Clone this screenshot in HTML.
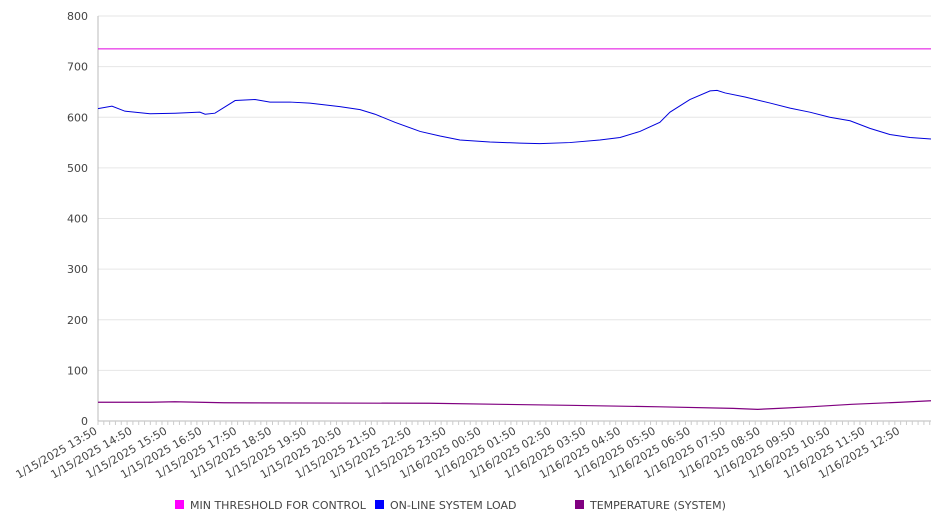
<!DOCTYPE html>
<html><head><meta charset="utf-8"><style>
body{margin:0;background:#fff;font-family:"DejaVu Sans","Liberation Sans",sans-serif;}
svg text{font-family:"DejaVu Sans","Liberation Sans",sans-serif;font-size:11px;fill:#444;}
</style></head><body>
<svg id="chart" width="946" height="526" xmlns="http://www.w3.org/2000/svg"></svg>
<script>
const yTicks=[0,100,200,300,400,500,600,700,800];
const xTickLabels=["1/15/2025 13:50","1/15/2025 14:50","1/15/2025 15:50","1/15/2025 16:50","1/15/2025 17:50","1/15/2025 18:50","1/15/2025 19:50","1/15/2025 20:50","1/15/2025 21:50","1/15/2025 22:50","1/15/2025 23:50","1/16/2025 00:50","1/16/2025 01:50","1/16/2025 02:50","1/16/2025 03:50","1/16/2025 04:50","1/16/2025 05:50","1/16/2025 06:50","1/16/2025 07:50","1/16/2025 08:50","1/16/2025 09:50","1/16/2025 10:50","1/16/2025 11:50","1/16/2025 12:50"];
const loadHours=[0,0.4,0.77,1.49,2.21,2.92,3.07,3.35,3.93,4.5,4.93,5.5,6.07,6.93,7.51,7.94,8.51,9.23,9.8,10.37,11.23,12.09,12.66,13.52,14.38,14.96,15.53,16.1,16.39,16.96,17.54,17.74,17.97,18.54,19.26,19.83,20.4,20.97,21.55,22.12,22.69,23.27,23.87];
const loadValues=[617,622,612,607,608,610,606,608,633,635,630,630,628,621,615,606,590,572,563,555,551,549,548,550,555,560,572,590,610,635,652,653,648,640,628,618,610,600,593,578,566,560,557];
const tempHours=[0,1.5,2.2,3.6,9.5,11.5,13.5,16.1,18.2,18.9,19.5,20.4,21.6,23.0,23.87];
const tempValues=[37,37,38,36,35,33,31,28,25,23,25,28,33,37,40];
const thresholdValue=735;
const spanHours=23.87;
const L=98,R=931,T=16,B=421;
const xs=h=>L+h*(R-L)/spanHours;
const ys=v=>B-v*(B-T)/800;
const svg=document.getElementById('chart');
const NS='http://www.w3.org/2000/svg';
function mk(tag,attrs){const e=document.createElementNS(NS,tag);for(const k in attrs)e.setAttribute(k,attrs[k]);svg.appendChild(e);return e;}
yTicks.forEach(v=>{
  const g=mk('line',{x1:L,x2:R,y1:ys(v),y2:ys(v),stroke:v===0?'#bbb':'#e6e6e6','stroke-width':1});
  
  
  const t=mk('text',{x:88,y:ys(v)+4,'text-anchor':'end'});t.textContent=v;
  
  
});
const ax=mk('line',{x1:L,x2:L,y1:T,y2:B,stroke:'#bbb'});


for(let m=0;m<=spanHours*60;m+=10){
  const tk=mk('line',{x1:xs(m/60),x2:xs(m/60),y1:B,y2:B+4,stroke:'#ccc'});
  
  
}
xTickLabels.forEach((s,i)=>{
  const x=xs(i);
  const t=mk('text',{x:x,y:B+12,'text-anchor':'end',transform:`rotate(-30 ${x} ${B+12})`});t.textContent=s;
  
  
});
const th=mk('line',{x1:L,x2:R,y1:ys(thresholdValue),y2:ys(thresholdValue),stroke:'#e000e0','stroke-width':1});


const lp=mk('polyline',{points:loadHours.map((h,i)=>xs(h)+','+ys(loadValues[i])).join(' '),fill:'none',stroke:'#0000dd','stroke-width':1});


const tp=mk('polyline',{points:tempHours.map((h,i)=>xs(h)+','+ys(tempValues[i])).join(' '),fill:'none',stroke:'#800080','stroke-width':1.2});


const legend=[["MIN THRESHOLD FOR CONTROL","#ff00ff",175],["ON-LINE SYSTEM LOAD","#0000ff",375],["TEMPERATURE (SYSTEM)","#800080",575]];
legend.forEach(([n,c,x])=>{
  const r=mk('rect',{x:x,y:500,width:9,height:9,fill:c});
  
  
  const t=mk('text',{x:x+15,y:509});t.textContent=n;
  
  
});
</script>
</body></html>
